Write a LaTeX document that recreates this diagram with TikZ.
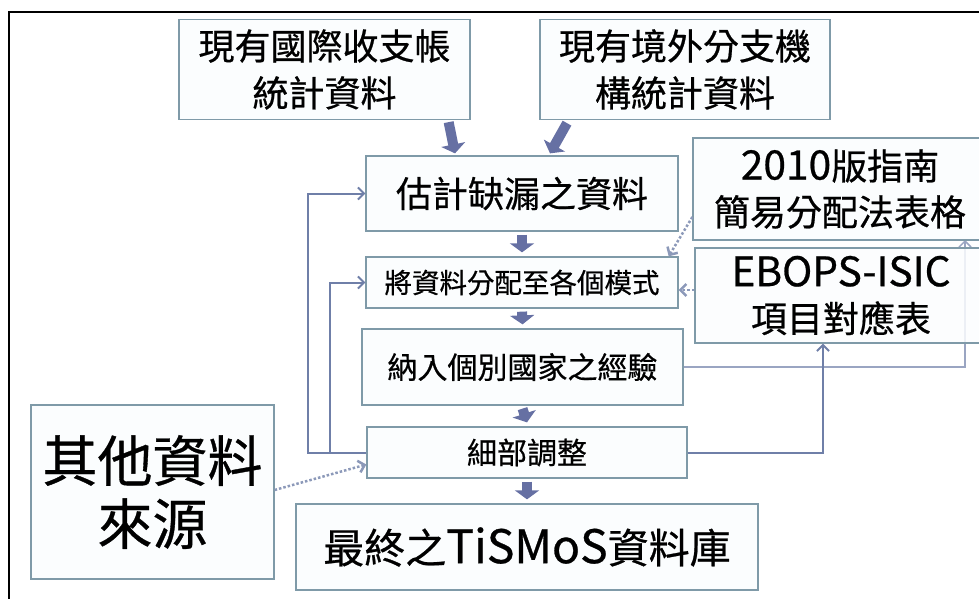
\documentclass[tikz,border=0pt]{standalone}
\usepackage{fontspec}
\setmainfont{Noto Sans CJK TC}[FakeBold=0.6]
\newfontfamily\latn{Noto Sans CJK TC}[Scale=1.13,FakeBold=0.6]
\usetikzlibrary{arrows.meta}
\definecolor{boxline}{HTML}{7F9AA8}
\definecolor{boxfill}{HTML}{FBFDFE}
\definecolor{linkc}{HTML}{6F7FA8}
\definecolor{fatc}{HTML}{6670A3}
\newcommand{\fsz}[2]{\fontsize{#1}{#2}\selectfont}
\begin{document}
\begin{tikzpicture}[x=1pt,y=-1pt,
  box/.style={draw=boxline,fill=boxfill,line width=1.3pt,inner sep=0pt,align=center},
  link/.style={draw=linkc,line width=2pt,-{Straight Barb[length=6pt,width=12pt]}},
  dotlink/.style={link,draw=linkc!80,line width=2.5pt,dotted},
  fat/.style={draw=fatc,line width=10pt,-{Triangle[length=9pt,width=24pt]}}]
  \useasboundingbox (0,0) rectangle (979,599);
  \draw[line width=2pt] (9,620) -- (9,12) -- (995,12);
  \draw[link,line width=1.5pt,draw=linkc!70] (522.5,367) -| (965,240);
  \node[box,minimum width=291pt,minimum height=100pt,font=\fsz{36}{47}] (acct) at (324.5,69.5)
    {現有國際收支帳\\統計資料};
  \node[box,minimum width=290pt,minimum height=100pt,font=\fsz{36}{47}] (branch) at (685,69.5)
    {現有境外分支機\\構統計資料};
  \node[box,minimum width=312pt,minimum height=75pt,font=\fsz{36}{44}] (est) at (522,193.5)
    {估計缺漏之資料};
  \node[box,minimum width=312pt,minimum height=51pt,font=\fsz{27.5}{34}] (alloc) at (522,282.5)
    {將資料分配至各個模式};
  \node[box,minimum width=321pt,minimum height=76pt,font=\fsz{30}{36}] (expr) at (522.5,367)
    {納入個別國家之經驗};
  \node[box,minimum width=320pt,minimum height=51pt,font=\fsz{30}{36}] (fine) at (527,452.5)
    {細部調整};
  \node[box,minimum width=462pt,minimum height=86pt,font=\fsz{41}{50}] (final) at (527,547)
    {最終之{\latn TiSMoS}資料庫};
  \node[box,minimum width=243pt,minimum height=174pt,font=\fsz{55}{63}] (other) at (152.5,492)
    {其他資料\\來源};
  \node[box,minimum width=294pt,minimum height=102pt,font=\fsz{36}{46}] (guide) at (840,189)
    {{\latn 2010}版指南\\簡易分配法表格};
  \node[box,minimum width=292pt,minimum height=95pt,font=\fsz{36}{46},fill opacity=0.85,text opacity=1] (map) at (841,295.5)
    {{\latn EBOPS-ISIC}\\項目對應表};
  \coordinate (loopA) at (308,452.5);
  \coordinate (loopB) at (330,452.5);
  \draw[link] (fine.west) -- (loopA) |- (est.west);
  \draw[link] (loopB) |- (alloc.west);
  \draw[link] (fine.east) -| ([xshift=-18pt]map.south);
  \draw[dotlink] ([yshift=-28pt]guide.west) -- ([xshift=-10pt]alloc.north east);
  \draw[dotlink] ([yshift=5.5pt]map.west) -- ([yshift=-7.5pt]alloc.east);
  \draw[dotlink] ([yshift=2pt]other.east) -- ([yshift=-12pt]fine.west);
  \foreach \a/\b in {est/alloc,alloc/expr,expr/fine,fine/final}
    \draw[fat] ([yshift=-3pt]\a.south) -- ([yshift=4pt]\b.north);
  \draw[fat] ([xshift=-22pt,yshift=-2pt]acct.south east) -- ([xshift=-67pt,yshift=2pt]est.north);
  \draw[fat] ([xshift=-118pt,yshift=-3pt]branch.south) -- ([xshift=28pt,yshift=2pt]est.north);
\end{tikzpicture}
\end{document}
